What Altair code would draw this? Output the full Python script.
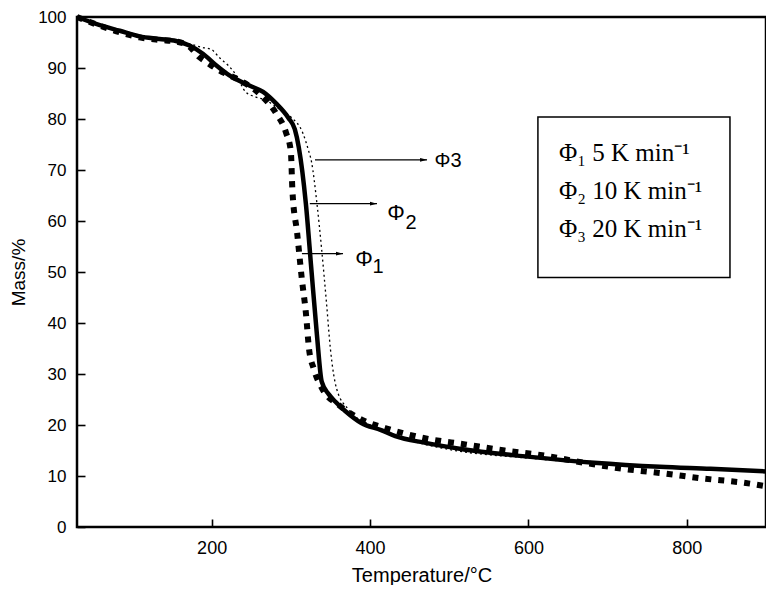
import altair as alt
import pandas as pd

# ---- data ----
# Φ1 : 5 K/min (thick dashed)
phi1_T = [30, 55, 84, 109, 134, 155, 172, 184, 195, 210, 230, 260, 281, 294, 300, 302, 308, 314, 319, 323, 329, 340, 360, 390, 419, 469, 520, 570, 620, 670, 720, 771, 821, 871, 900]
phi1_M = [100, 98.5, 97.0, 96.0, 95.5, 95.2, 94.2, 92.2, 91.0, 89.5, 88.0, 85.0, 81.2, 77.3, 73.7, 66.0, 57.6, 48.5, 42.0, 34.9, 31.0, 27.0, 24.0, 21.0, 19.4, 17.4, 16.2, 15.0, 14.0, 12.6, 11.4, 10.5, 9.5, 8.7, 8.0]
# Φ2 : 10 K/min (thick solid)
phi2_T = [30, 55, 84, 109, 134, 155, 172, 189, 206, 222, 247, 265, 281, 297, 305, 310, 319, 326, 333, 339, 348, 356, 369, 389, 414, 432, 470, 515, 599, 683, 766, 830, 900]
phi2_M = [100, 98.6, 97.3, 96.2, 95.7, 95.3, 94.4, 92.8, 90.5, 88.6, 86.6, 85.3, 83.1, 80.2, 78.0, 74.5, 63.4, 50.4, 37.6, 28.5, 26.0, 24.6, 22.7, 20.4, 19.0, 17.8, 16.5, 15.3, 13.8, 12.6, 11.8, 11.4, 10.9]
# Φ3 : 20 K/min (thin hatched)
phi3_T = [30, 55, 84, 109, 134, 155, 175, 189, 199, 210, 221, 231, 243, 256, 268, 285, 300, 315, 322, 326, 333, 339, 345, 350, 358, 373, 400, 450, 500, 600, 700, 800, 900]
phi3_M = [100, 98.6, 97.3, 96.2, 95.7, 95.3, 94.6, 94.0, 93.7, 92.0, 90.5, 88.6, 85.3, 84.3, 83.7, 82.0, 80.4, 77.3, 74.0, 71.7, 63.4, 54.3, 44.0, 34.9, 27.0, 23.0, 20.0, 17.0, 15.2, 13.5, 12.3, 11.5, 11.0]

x_ticks = [200, 400, 600, 800]
y_ticks = [0, 10, 20, 30, 40, 50, 60, 70, 80, 90, 100]

# arrows pointing at the curves (Φ1, Φ2, Φ3)
arrow_x1 = [314, 324, 330.5]
arrow_x2 = [365.9, 408.8, 472]
arrow_y = [53.6, 63.4, 72.0]
# arrow labels: "Φ" and its index
phi_lab_x = [392.4, 432.8]
phi_lab_y = [52.6, 61.6]
idx_lab_x = [410, 451.7]
idx_lab_y = [50.9, 59.7]
idx_lab = ["1", "2"]
phi3_lab_x = [498.5]
phi3_lab_y = [71.8]
phi3_lab = ["Φ3"]

# legend box
legend_box_x = [612]
legend_box_x2 = [854.5]
legend_box_y = [80.4]
legend_box_y2 = [48.9]
legend_text_x = [638.6, 638.6, 638.6]
legend_text_y = [73.4, 65.9, 58.5]
legend_text = ["Φ\u2081 5 K min\u207b\u00b9", "Φ\u2082 10 K min\u207b\u00b9", "Φ\u2083 20 K min\u207b\u00b9"]

W, H = 689, 510
SANS = "Liberation Sans"
SERIF = "Liberation Serif"

xs = alt.Scale(domain=[30, 900], nice=False, zero=False)
ys = alt.Scale(domain=[0, 100], nice=False)

main_x = alt.Axis(values=x_ticks, ticks=False, domain=False, grid=False,
                  labelFont=SANS, labelFontSize=18, labelColor="black", labelPadding=12,
                  title="Temperature/°C", titleFont=SANS, titleFontSize=20,
                  titleFontWeight="normal", titleColor="black", titlePadding=8)
main_y = alt.Axis(values=y_ticks, ticks=False, domain=False, grid=False,
                  labelFont=SANS, labelFontSize=17, labelColor="black", labelPadding=11,
                  title="Mass/%", titleFont=SANS, titleFontSize=19,
                  titleFontWeight="normal", titleColor="black", titlePadding=9)
tick_x = alt.Axis(orient="top", offset=-H, values=x_ticks, labels=False, domain=False,
                  grid=False, tickSize=8, tickWidth=1.6, tickColor="black", title="")
tick_y = alt.Axis(orient="right", offset=-W, values=y_ticks, labels=False, domain=False,
                  grid=False, tickSize=8, tickWidth=1.6, tickColor="black", title="")


def df_of(T, M):
    return pd.DataFrame({"T": T, "M": M})


phi3_line = alt.Chart(df_of(phi3_T, phi3_M)).mark_line(
    interpolate="monotone", color="black", strokeWidth=1.3, strokeDash=[2, 3]
).encode(x=alt.X("T:Q", scale=xs, axis=None), y=alt.Y("M:Q", scale=ys, axis=None))

phi2_line = alt.Chart(df_of(phi2_T, phi2_M)).mark_line(
    interpolate="monotone", color="black", strokeWidth=4.5
).encode(x=alt.X("T:Q", scale=xs, axis=main_x), y=alt.Y("M:Q", scale=ys, axis=main_y))

phi1_line = alt.Chart(df_of(phi1_T, phi1_M)).mark_line(
    interpolate="monotone", color="black", strokeWidth=6, strokeDash=[6, 7], strokeCap="butt"
).encode(x=alt.X("T:Q", scale=xs, axis=None), y=alt.Y("M:Q", scale=ys, axis=None))

tick_layer = alt.Chart(df_of(phi2_T, phi2_M)).mark_line(opacity=0).encode(
    x=alt.X("T:Q", scale=xs, axis=tick_x), y=alt.Y("M:Q", scale=ys, axis=tick_y))

arrows_df = pd.DataFrame({"x1": arrow_x1, "x2": arrow_x2, "y": arrow_y})
arrow_lines = alt.Chart(arrows_df).mark_rule(color="black", strokeWidth=1.2).encode(
    x=alt.X("x1:Q", scale=xs, axis=None), x2="x2:Q", y=alt.Y("y:Q", scale=ys, axis=None))
arrow_heads = alt.Chart(arrows_df).mark_point(
    shape="M-2,-0.55L0,0L-2,0.55Z", filled=True, color="black", size=49, opacity=1
).encode(x=alt.X("x2:Q", scale=xs, axis=None), y=alt.Y("y:Q", scale=ys, axis=None))

phi_labels = alt.Chart(pd.DataFrame({"x": phi_lab_x, "y": phi_lab_y, "t": ["Φ", "Φ"]})).mark_text(
    font=SANS, fontSize=22, color="black", align="center", baseline="middle"
).encode(x=alt.X("x:Q", scale=xs, axis=None), y=alt.Y("y:Q", scale=ys, axis=None), text="t:N")
idx_labels = alt.Chart(pd.DataFrame({"x": idx_lab_x, "y": idx_lab_y, "t": idx_lab})).mark_text(
    font=SANS, fontSize=20, color="black", align="center", baseline="middle"
).encode(x=alt.X("x:Q", scale=xs, axis=None), y=alt.Y("y:Q", scale=ys, axis=None), text="t:N")
phi3_label = alt.Chart(pd.DataFrame({"x": phi3_lab_x, "y": phi3_lab_y, "t": phi3_lab})).mark_text(
    font=SANS, fontSize=20, color="black", align="center", baseline="middle"
).encode(x=alt.X("x:Q", scale=xs, axis=None), y=alt.Y("y:Q", scale=ys, axis=None), text="t:N")

legend_rect = alt.Chart(pd.DataFrame({"x": legend_box_x, "x2": legend_box_x2,
                                      "y": legend_box_y, "y2": legend_box_y2})).mark_rect(
    fillOpacity=0, stroke="black", strokeWidth=1.5
).encode(x=alt.X("x:Q", scale=xs, axis=None), x2="x2:Q",
         y=alt.Y("y:Q", scale=ys, axis=None), y2="y2:Q")
legend_txt = alt.Chart(pd.DataFrame({"x": legend_text_x, "y": legend_text_y, "t": legend_text})).mark_text(
    font=SERIF, fontSize=25, color="black", align="left", baseline="middle"
).encode(x=alt.X("x:Q", scale=xs, axis=None), y=alt.Y("y:Q", scale=ys, axis=None), text="t:N")

chart = alt.layer(
    phi3_line, phi2_line, phi1_line, tick_layer,
    arrow_lines, arrow_heads, phi_labels, idx_labels, phi3_label,
    legend_rect, legend_txt
).resolve_axis(x="independent", y="independent").properties(
    width=W, height=H,
    autosize=alt.AutoSizeParams(type="none"),
    padding={"left": 69, "top": 9, "right": 0, "bottom": 58},
    background="white",
).configure_view(stroke="black", strokeWidth=2.5)

chart.save("out.html", embed_options={"renderer": "svg", "actions": False})
